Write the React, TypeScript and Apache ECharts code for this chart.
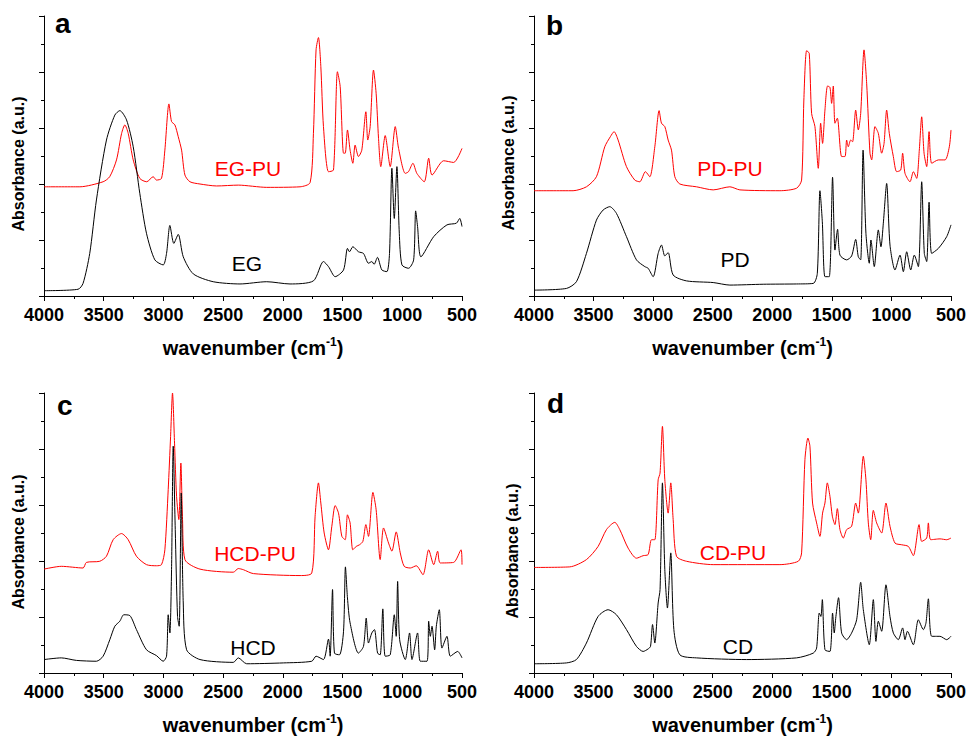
import React, { useEffect, useRef } from "react";
import * as echarts from "echarts";

// ---- Data: [wavenumber (cm-1), absorbance (a.u., offset)] ----
const egPu: [number, number][] = [
  [4000, 3.9], [3700, 3.9], [3505, 4.08], [3450, 4.26], [3393, 4.86], [3350, 5.81], [3323, 6.11], [3295, 5.81],
  [3253, 4.86], [3198, 4.2], [3140, 4.08], [3086, 4.26], [3058, 4.14], [3016, 4.2], [2988, 5.21], [2954, 6.86],
  [2932, 6.23], [2904, 6.11], [2876, 5.69], [2848, 5.21], [2820, 4.32], [2778, 4.08], [2694, 4.0], [2555, 3.93],
  [2373, 3.96], [2135, 3.88], [1856, 3.9], [1772, 4.05], [1744, 5.81], [1722, 8.79], [1702, 9.23], [1682, 8.19],
  [1660, 6.05], [1618, 4.44], [1576, 4.5], [1543, 8.01], [1520, 7.48], [1492, 5.1], [1478, 5.1], [1459, 5.93],
  [1437, 5.21], [1414, 4.74], [1395, 5.39], [1367, 4.98], [1339, 5.21], [1305, 6.58], [1289, 5.57], [1269, 6.05],
  [1241, 8.07], [1219, 7.24], [1199, 5.63], [1180, 4.62], [1143, 5.73], [1101, 4.62], [1059, 6.05], [1031, 5.27],
  [975, 4.38], [948, 4.44], [911, 4.74], [878, 4.38], [816, 4.08], [779, 4.92], [751, 4.32], [654, 4.83],
  [570, 4.77], [500, 5.27],
];
const eg: [number, number][] = [
  [4000, 0.19], [3715, 0.24], [3673, 0.45], [3617, 1.52], [3561, 3.43], [3477, 5.57], [3407, 6.46], [3365, 6.62],
  [3309, 6.29], [3253, 5.33], [3198, 3.67], [3142, 2.24], [3072, 1.29], [3002, 1.11], [2974, 1.52], [2946, 2.52],
  [2913, 1.88], [2876, 2.2], [2834, 1.4], [2750, 0.79], [2583, 0.51], [2359, 0.43], [2135, 0.51], [1940, 0.43],
  [1744, 0.54], [1660, 1.23], [1618, 1.05], [1562, 0.69], [1492, 0.93], [1459, 1.7], [1442, 1.58], [1414, 1.76],
  [1367, 1.58], [1325, 1.52], [1283, 1.17], [1255, 1.23], [1236, 1.13], [1208, 1.38], [1171, 0.93], [1129, 0.87],
  [1107, 1.52], [1087, 4.56], [1067, 2.77], [1045, 4.62], [1025, 2.24], [1003, 1.11], [948, 0.99], [905, 1.29],
  [888, 3.04], [872, 2.48], [844, 1.4], [737, 2.12], [626, 2.54], [547, 2.6], [519, 2.77], [500, 2.48],
];
const pdPu: [number, number][] = [
  [4000, 3.76], [3672, 3.76], [3560, 3.9], [3476, 4.26], [3406, 5.33], [3359, 5.69], [3328, 5.87], [3294, 5.57],
  [3224, 4.62], [3154, 4.14], [3112, 4.08], [3065, 4.44], [3028, 4.26], [2986, 5.33], [2950, 6.62], [2930, 6.17],
  [2902, 6.05], [2874, 5.57], [2846, 5.21], [2818, 4.26], [2776, 4.0], [2636, 3.9], [2496, 3.79], [2356, 3.9],
  [2272, 3.79], [1936, 3.76], [1796, 3.85], [1754, 4.14], [1735, 7.0], [1712, 8.76], [1690, 8.67], [1670, 6.52],
  [1642, 6.05], [1614, 4.56], [1594, 6.17], [1578, 5.45], [1558, 6.64], [1536, 7.5], [1516, 7.45], [1502, 6.88],
  [1488, 7.5], [1474, 6.17], [1454, 6.35], [1418, 4.98], [1390, 4.98], [1376, 5.57], [1362, 5.33], [1342, 5.57],
  [1326, 5.51], [1300, 6.64], [1278, 5.93], [1258, 6.52], [1230, 8.79], [1208, 7.6], [1180, 5.1], [1166, 4.86],
  [1138, 6.05], [1110, 5.81], [1082, 5.1], [1062, 5.45], [1040, 6.64], [1018, 5.81], [984, 4.98], [956, 4.44],
  [922, 4.5], [906, 5.1], [886, 4.38], [844, 4.08], [816, 4.44], [788, 4.2], [766, 5.21], [746, 6.4],
  [726, 5.1], [704, 4.62], [684, 5.87], [662, 4.74], [606, 4.86], [550, 4.86], [514, 5.33], [500, 5.93],
];
const pd: [number, number][] = [
  [4000, 0.21], [3728, 0.27], [3644, 0.51], [3560, 1.52], [3476, 2.71], [3420, 3.07], [3364, 3.19], [3308, 2.95],
  [3224, 2.12], [3140, 1.29], [3070, 1.05], [3042, 0.99], [3000, 0.69], [2958, 1.52], [2930, 1.82], [2902, 1.43],
  [2874, 1.55], [2832, 0.75], [2720, 0.54], [2496, 0.48], [2356, 0.39], [2076, 0.42], [1796, 0.43], [1656, 0.45],
  [1622, 0.81], [1600, 3.76], [1580, 2.65], [1558, 0.69], [1522, 0.69], [1494, 4.24], [1474, 1.64], [1452, 2.38],
  [1432, 1.46], [1376, 1.29], [1334, 1.43], [1300, 2.02], [1278, 1.4], [1258, 1.29], [1238, 5.21], [1214, 2.24],
  [1186, 1.17], [1172, 2.0], [1144, 1.05], [1110, 2.36], [1088, 1.76], [1068, 2.6], [1040, 4.02], [1012, 1.82],
  [970, 0.93], [928, 1.46], [900, 0.87], [872, 1.58], [838, 0.93], [808, 1.46], [774, 1.05], [746, 4.08],
  [724, 1.52], [704, 1.23], [684, 3.35], [662, 1.52], [606, 1.7], [536, 2.12], [500, 2.54],
];
const hcdPu: [number, number][] = [
  [4000, 3.71], [3855, 3.81], [3673, 3.75], [3645, 3.95], [3533, 3.99], [3477, 4.17], [3421, 4.76], [3351, 4.98],
  [3295, 4.76], [3226, 4.17], [3142, 3.87], [3058, 3.83], [3016, 3.87], [2988, 4.4], [2960, 6.55], [2940, 8.45],
  [2924, 10.0], [2907, 8.21], [2890, 6.31], [2871, 5.48], [2854, 7.5], [2840, 5.48], [2820, 4.05], [2694, 3.71],
  [2415, 3.6], [2373, 3.73], [2331, 3.69], [2247, 3.55], [1856, 3.48], [1758, 3.57], [1730, 5.6], [1702, 6.79],
  [1682, 6.07], [1654, 5.0], [1618, 4.4], [1590, 5.24], [1562, 5.98], [1534, 5.71], [1506, 4.88], [1478, 4.76],
  [1459, 5.65], [1437, 5.36], [1414, 4.4], [1386, 4.52], [1358, 4.58], [1330, 4.7], [1305, 5.3], [1283, 4.88],
  [1246, 6.45], [1219, 5.83], [1185, 4.05], [1157, 5.18], [1115, 4.64], [1087, 4.35], [1051, 5.04], [1017, 4.29],
  [984, 3.81], [933, 3.75], [883, 3.83], [827, 3.51], [779, 4.4], [737, 3.87], [704, 4.35], [682, 3.93],
  [570, 3.95], [508, 4.4], [500, 3.87],
];
const hcd: [number, number][] = [
  [4000, 0.48], [3855, 0.54], [3729, 0.45], [3561, 0.42], [3505, 0.6], [3449, 1.19], [3407, 1.67], [3365, 1.85],
  [3332, 2.08], [3281, 2.05], [3226, 1.55], [3142, 0.83], [3058, 0.62], [3002, 0.42], [2974, 0.6], [2960, 2.08],
  [2946, 1.43], [2932, 3.69], [2918, 8.1], [2901, 5.12], [2882, 2.02], [2868, 1.67], [2851, 6.43], [2834, 2.5],
  [2806, 0.83], [2694, 0.48], [2415, 0.38], [2373, 0.54], [2303, 0.33], [1996, 0.36], [1758, 0.42], [1722, 0.6],
  [1660, 0.48], [1618, 1.21], [1604, 0.6], [1584, 2.98], [1568, 0.71], [1526, 0.65], [1492, 1.49], [1476, 3.79],
  [1459, 2.68], [1437, 1.79], [1367, 0.71], [1325, 0.95], [1302, 1.96], [1283, 1.07], [1255, 1.43], [1233, 1.55],
  [1207, 0.71], [1185, 0.65], [1163, 2.29], [1143, 0.6], [1101, 0.65], [1067, 2.08], [1051, 1.31], [1039, 3.27],
  [1022, 1.19], [975, 0.48], [939, 1.43], [919, 0.48], [872, 1.43], [849, 0.42], [793, 0.42], [779, 1.85],
  [765, 1.31], [751, 1.67], [729, 0.83], [715, 1.67], [690, 2.26], [668, 0.89], [626, 1.31], [598, 0.6],
  [536, 0.77], [500, 0.54],
];
const cdPu: [number, number][] = [
  [4000, 3.77], [3700, 3.79], [3560, 4.05], [3462, 4.52], [3392, 5.12], [3322, 5.38], [3280, 5.12], [3210, 4.46],
  [3140, 4.1], [3084, 4.19], [3042, 4.23], [3014, 4.76], [2986, 4.76], [2958, 6.9], [2942, 7.14], [2922, 8.81],
  [2902, 6.9], [2874, 5.71], [2852, 6.79], [2832, 5.48], [2804, 4.17], [2720, 3.99], [2496, 3.87], [1936, 3.87],
  [1782, 3.99], [1754, 4.29], [1726, 7.62], [1701, 8.39], [1684, 8.1], [1662, 6.07], [1628, 5.36], [1600, 4.88],
  [1578, 5.71], [1558, 6.07], [1538, 6.79], [1516, 6.31], [1496, 5.6], [1474, 5.3], [1454, 5.87], [1432, 5.12],
  [1404, 4.82], [1376, 5.12], [1334, 5.24], [1300, 6.07], [1278, 5.71], [1236, 7.74], [1214, 6.9], [1194, 5.36],
  [1174, 4.76], [1152, 5.81], [1124, 5.36], [1082, 5.0], [1046, 6.07], [1012, 5.24], [970, 4.64], [914, 4.58],
  [858, 4.52], [816, 4.19], [768, 5.3], [746, 4.7], [704, 4.82], [690, 5.36], [670, 4.76], [592, 4.79],
  [536, 4.76], [500, 4.82],
];
const cd: [number, number][] = [
  [4000, 0.33], [3728, 0.36], [3644, 0.48], [3560, 1.07], [3462, 2.02], [3378, 2.26], [3308, 2.08], [3224, 1.55],
  [3140, 0.95], [3084, 0.77], [3042, 0.86], [3022, 0.95], [3005, 1.73], [2986, 1.07], [2958, 2.5], [2942, 2.98],
  [2922, 6.79], [2902, 3.69], [2880, 2.32], [2852, 4.29], [2826, 1.55], [2776, 0.65], [2636, 0.54], [2216, 0.48],
  [1796, 0.54], [1656, 0.71], [1628, 0.89], [1606, 2.14], [1592, 2.02], [1580, 2.62], [1558, 0.83], [1516, 0.77],
  [1494, 2.14], [1480, 1.43], [1466, 2.02], [1444, 2.69], [1418, 1.43], [1376, 1.19], [1334, 1.43], [1292, 1.9],
  [1258, 3.24], [1236, 2.26], [1186, 1.01], [1152, 2.62], [1130, 1.13], [1110, 1.85], [1082, 1.49], [1046, 3.15],
  [1012, 2.02], [984, 1.43], [942, 1.19], [906, 1.61], [886, 1.19], [866, 1.49], [816, 1.01], [774, 1.9],
  [732, 1.55], [710, 1.79], [690, 2.65], [662, 1.31], [592, 1.31], [536, 1.19], [500, 1.31],
];

const panelLetters = ["a", "b", "c", "d"];
const puNames = ["EG-PU", "PD-PU", "HCD-PU", "CD-PU"];
const diolNames = ["EG", "PD", "HCD", "CD"];
const puData = [egPu, pdPu, hcdPu, cdPu];
const diolData = [eg, pd, hcd, cd];

const FONT = "Arial, 'Liberation Sans', Helvetica, sans-serif";

// layout
const grids = [
  { left: 44, top: 16, width: 418, height: 280 },
  { left: 534, top: 16, width: 417, height: 280 },
  { left: 44, top: 393, width: 418, height: 280 },
  { left: 534, top: 393, width: 417, height: 280 },
];
const letterPos = [[55, 23], [546, 25], [57, 405], [547, 403]];
const puLabelPos = [[248, 168], [730, 168], [255, 553], [733, 552]];
const diolLabelPos = [[247, 263], [735, 259], [253, 647], [738, 646]];
const yNamePos = [[18, 164], [508, 163], [18, 542], [512, 551]];

function text(x: number, y: number, t: string, size: number, weight: string, color: string, align = "center", rotation = 0) {
  return {
    type: "text",
    x,
    y,
    rotation,
    silent: true,
    style: {
      text: t,
      fill: color,
      fontSize: size,
      fontWeight: weight,
      fontFamily: FONT,
      align,
      verticalAlign: "middle",
      textAlign: align,
      textVerticalAlign: "middle",
    },
  };
}

export default function App() {
  const ref = useRef<HTMLDivElement>(null);
  useEffect(() => {
    document.body.style.margin = "0";
    if (!ref.current) return;
    const chart = echarts.init(ref.current, undefined, { renderer: "svg" });

    const xAxis = grids.map((_, i) => ({
      type: "value",
      gridIndex: i,
      min: 500,
      max: 4000,
      interval: 500,
      inverse: true,
      name: "wavenumber (cm{sup|-1})",
      nameLocation: "middle",
      nameGap: 40,
      nameTextStyle: {
        fontSize: 20,
        fontWeight: "bold",
        fontFamily: FONT,
        color: "#000",
        rich: {
          sup: { fontSize: 12, fontWeight: "bold", fontFamily: FONT, color: "#000", padding: [0, 0, 12, 0] },
        },
      },
      axisLine: { show: true, lineStyle: { color: "#000", width: 1 } },
      axisTick: { show: true, inside: false, length: 5, lineStyle: { color: "#000" } },
      minorTick: { show: true, splitNumber: 2, length: 3, lineStyle: { color: "#000" } },
      splitLine: { show: false },
      minorSplitLine: { show: false },
      axisLabel: {
        show: true,
        fontSize: 18,
        fontWeight: "bold",
        fontFamily: FONT,
        color: "#000",
        margin: 10,
        formatter: (v: number) => String(v),
      },
    }));
    const yAxis = grids.map((_, i) => ({
      type: "value",
      gridIndex: i,
      min: 0,
      max: 10,
      interval: 2,
      axisLine: { show: true, lineStyle: { color: "#000", width: 1 } },
      axisTick: { show: true, inside: false, length: 5, lineStyle: { color: "#000" } },
      minorTick: { show: true, splitNumber: 2, length: 3, lineStyle: { color: "#000" } },
      splitLine: { show: false },
      minorSplitLine: { show: false },
      axisLabel: { show: false },
    }));
    const series: any[] = [];
    for (let i = 0; i < 4; i++) {
      series.push({
        name: puNames[i],
        type: "line",
        xAxisIndex: i,
        yAxisIndex: i,
        data: puData[i],
        showSymbol: false,
        symbol: "none",
        smooth: 0.25,
        lineStyle: { color: "#ff0000", width: 1 },
        itemStyle: { color: "#ff0000" },
        z: 2,
      });
      series.push({
        name: diolNames[i],
        type: "line",
        xAxisIndex: i,
        yAxisIndex: i,
        data: diolData[i],
        showSymbol: false,
        symbol: "none",
        smooth: 0.25,
        lineStyle: { color: "#000000", width: 1 },
        itemStyle: { color: "#000000" },
        z: 3,
      });
    }
    const graphics: any[] = [];
    for (let i = 0; i < 4; i++) {
      graphics.push(text(letterPos[i][0], letterPos[i][1], panelLetters[i], 28, "bold", "#000", "left"));
      graphics.push(text(puLabelPos[i][0], puLabelPos[i][1], puNames[i], 21, "normal", "#ff0000"));
      graphics.push(text(diolLabelPos[i][0], diolLabelPos[i][1], diolNames[i], 21, "normal", "#000"));
      graphics.push(text(yNamePos[i][0], yNamePos[i][1], "Absorbance (a.u.)", 16, "bold", "#000", "center", Math.PI / 2));
    }

    chart.setOption({
      animation: false,
      backgroundColor: "#ffffff",
      grid: grids.map((g) => ({ ...g, containLabel: false })),
      xAxis,
      yAxis,
      series,
      graphic: graphics,
    });
    return () => chart.dispose();
  }, []);
  return <div ref={ref} style={{ width: 971, height: 737 }} />;
}
